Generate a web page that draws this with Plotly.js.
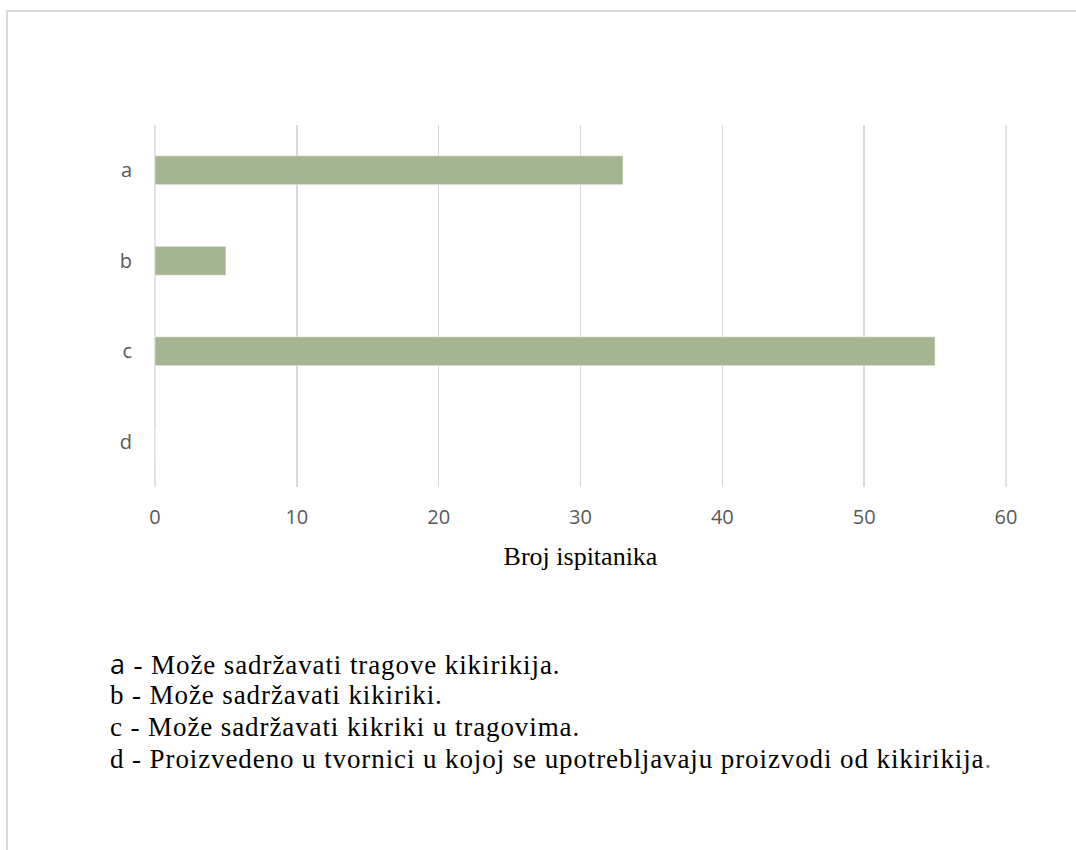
<!DOCTYPE html>
<html>
<head>
<meta charset="utf-8">
<script src="https://cdn.plot.ly/plotly-3.0.1.min.js"></script>
<style>
  html, body { margin: 0; padding: 0; background: #fff; }
  #wrap { position: relative; width: 1076px; height: 850px; overflow: hidden; }
  #frame { position: absolute; left: 6px; top: 10px; width: 1200px; height: 1000px;
           border-left: 2px solid #d9d9d9; border-top: 2px solid #d9d9d9; box-sizing: border-box; }
  #chart { position: absolute; left: 0; top: 0; width: 1076px; height: 850px; }
  #chart .annotation-text { letter-spacing: 0.9px; }
</style>
</head>
<body>
<div id="wrap">
  <div id="frame"></div>
  <div id="chart"></div>
</div>
<script>
const categories = ['a', 'b', 'c', 'd'];
const values = [33, 5, 55, 0];
const xTicks = [0, 10, 20, 30, 40, 50, 60];
const axisTitle = 'Broj ispitanika';
const legendKeys = ['a', 'b', 'c', 'd'];
const legendTexts = [
  'Može sadržavati tragove kikirikija.',
  'Može sadržavati kikiriki.',
  'Može sadržavati kikriki u tragovima.',
  'Proizvedeno u tvornici u kojoj se upotrebljavaju proizvodi od kikirikija'
];

const plotTop = 125, plotBottom = 487;
const legendY0 = 663.5, legendStep = 31.7;
const annotations = legendTexts.map((t, i) => {
  const py = legendY0 + i * legendStep;
  let key = legendKeys[i];
  if (i === 0) key = '<span style="font-family:\'Open Sans\', sans-serif;">' + key + '</span>';
  let txt = key + ' - ' + t;
  if (i === legendTexts.length - 1) txt += '<span style="color:#7f7f7f;">.</span>';
  return {
    xref: 'paper', yref: 'paper',
    x: (108 - 155) / 851, y: (plotBottom - py) / (plotBottom - plotTop),
    xanchor: 'left', yanchor: 'middle',
    showarrow: false, align: 'left',
    text: txt,
    font: { family: '"Liberation Serif", "Times New Roman", serif', size: 27, color: '#000' }
  };
});

const xRange = [xTicks[0], xTicks[xTicks.length - 1]];
// gridlines at the two range ends (Plotly drops grid lines on the plot edges)
const edgeShapes = xRange.map(v => {
  const p = (v - xRange[0]) / (xRange[1] - xRange[0]);
  return {
    type: 'line', xref: 'paper', yref: 'paper', x0: p, x1: p, y0: 0, y1: 1,
    line: { color: '#d9d9d9', width: 1.5 }, layer: 'below'
  };
});

const data = [{
  type: 'bar',
  orientation: 'h',
  y: categories,
  x: values,
  marker: { color: '#a5b592', line: { color: '#ffffff', width: 0.5 } },
  hoverinfo: 'none'
}];

const layout = {
  width: 1076, height: 850,
  paper_bgcolor: 'rgba(0,0,0,0)',
  plot_bgcolor: 'rgba(0,0,0,0)',
  margin: { l: 155, r: 70, t: plotTop, b: 850 - plotBottom, pad: 0 },
  showlegend: false,
  bargap: 0.68,
  xaxis: {
    range: xRange,
    tickvals: xTicks,
    ticktext: xTicks.map(String),
    showgrid: true, gridcolor: '#d9d9d9', gridwidth: 1.5,
    zeroline: false, showline: false, ticks: '',
    ticklabelstandoff: 16,
    tickfont: { family: '"Open Sans", sans-serif', size: 20, color: '#595959' },
    title: { text: axisTitle, standoff: 17,
             font: { family: '"Liberation Serif", "Times New Roman", serif', size: 26, color: '#000' } },
    fixedrange: true
  },
  yaxis: {
    type: 'category',
    categoryorder: 'array',
    categoryarray: categories.slice().reverse(),
    showgrid: false, zeroline: false, showline: false, ticks: '',
    ticklabelstandoff: 22,
    tickfont: { family: '"Open Sans", sans-serif', size: 20, color: '#595959' },
    fixedrange: true
  },
  shapes: edgeShapes,
  annotations: annotations
};

Plotly.newPlot('chart', data, layout, { displayModeBar: false, staticPlot: true });
</script>
</body>
</html>
